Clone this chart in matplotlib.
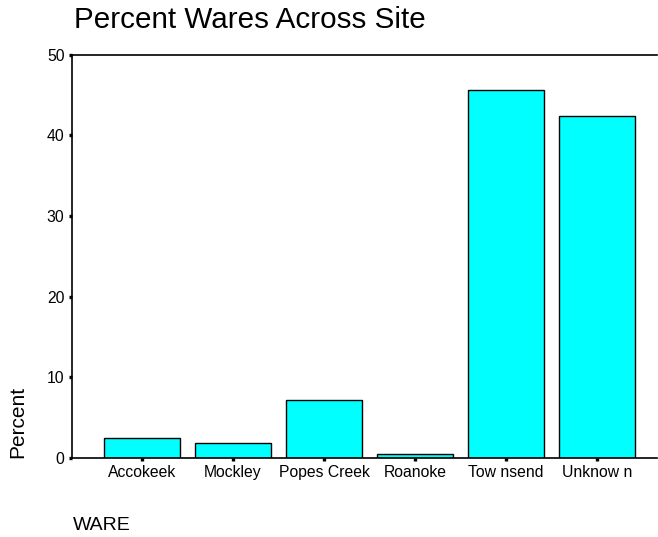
import matplotlib.pyplot as plt

# ---------------------------- data ----------------------------
wares = ['Accokeek', 'Mockley', 'Popes Creek', 'Roanoke', 'Tow nsend', 'Unknow n']
percent = [2.4, 1.8, 7.1, 0.5, 45.7, 42.4]
y_ticks = [0, 10, 20, 30, 40, 50]

plt.rcParams['font.family'] = ['Liberation Sans', 'DejaVu Sans']

fig = plt.figure(figsize=(6.58, 5.37), dpi=100)
ax = fig.add_axes([0.1094, 0.1477, 0.889, 0.75])

pos = list(range(len(wares)))
ax.bar(pos, percent, width=0.835, color='#00FFFF', edgecolor='black', linewidth=1.0)

ax.set_xlim(-0.77, 5.66)
ax.set_ylim(0, 50)
ax.set_yticks(y_ticks)
ax.set_xticks(pos)
ax.set_xticklabels(wares)

ax.spines['right'].set_visible(False)
for s in ['left', 'top', 'bottom']:
    ax.spines[s].set_linewidth(1.2)

ax.tick_params(axis='both', direction='out', length=2.4, width=2.4, labelsize=11.3, pad=3)

# title, labels (SPSS style: left aligned)
fig.text(0.113, 0.947, 'Percent Wares Across Site', fontsize=21.3, ha='left', va='baseline')
fig.text(0.111, 0.013, 'WARE', fontsize=14, ha='left', va='baseline')
fig.text(0.027, 0.148, 'Percent', fontsize=15, rotation=90, ha='center', va='bottom')

fig.savefig('out.png', dpi=100)
